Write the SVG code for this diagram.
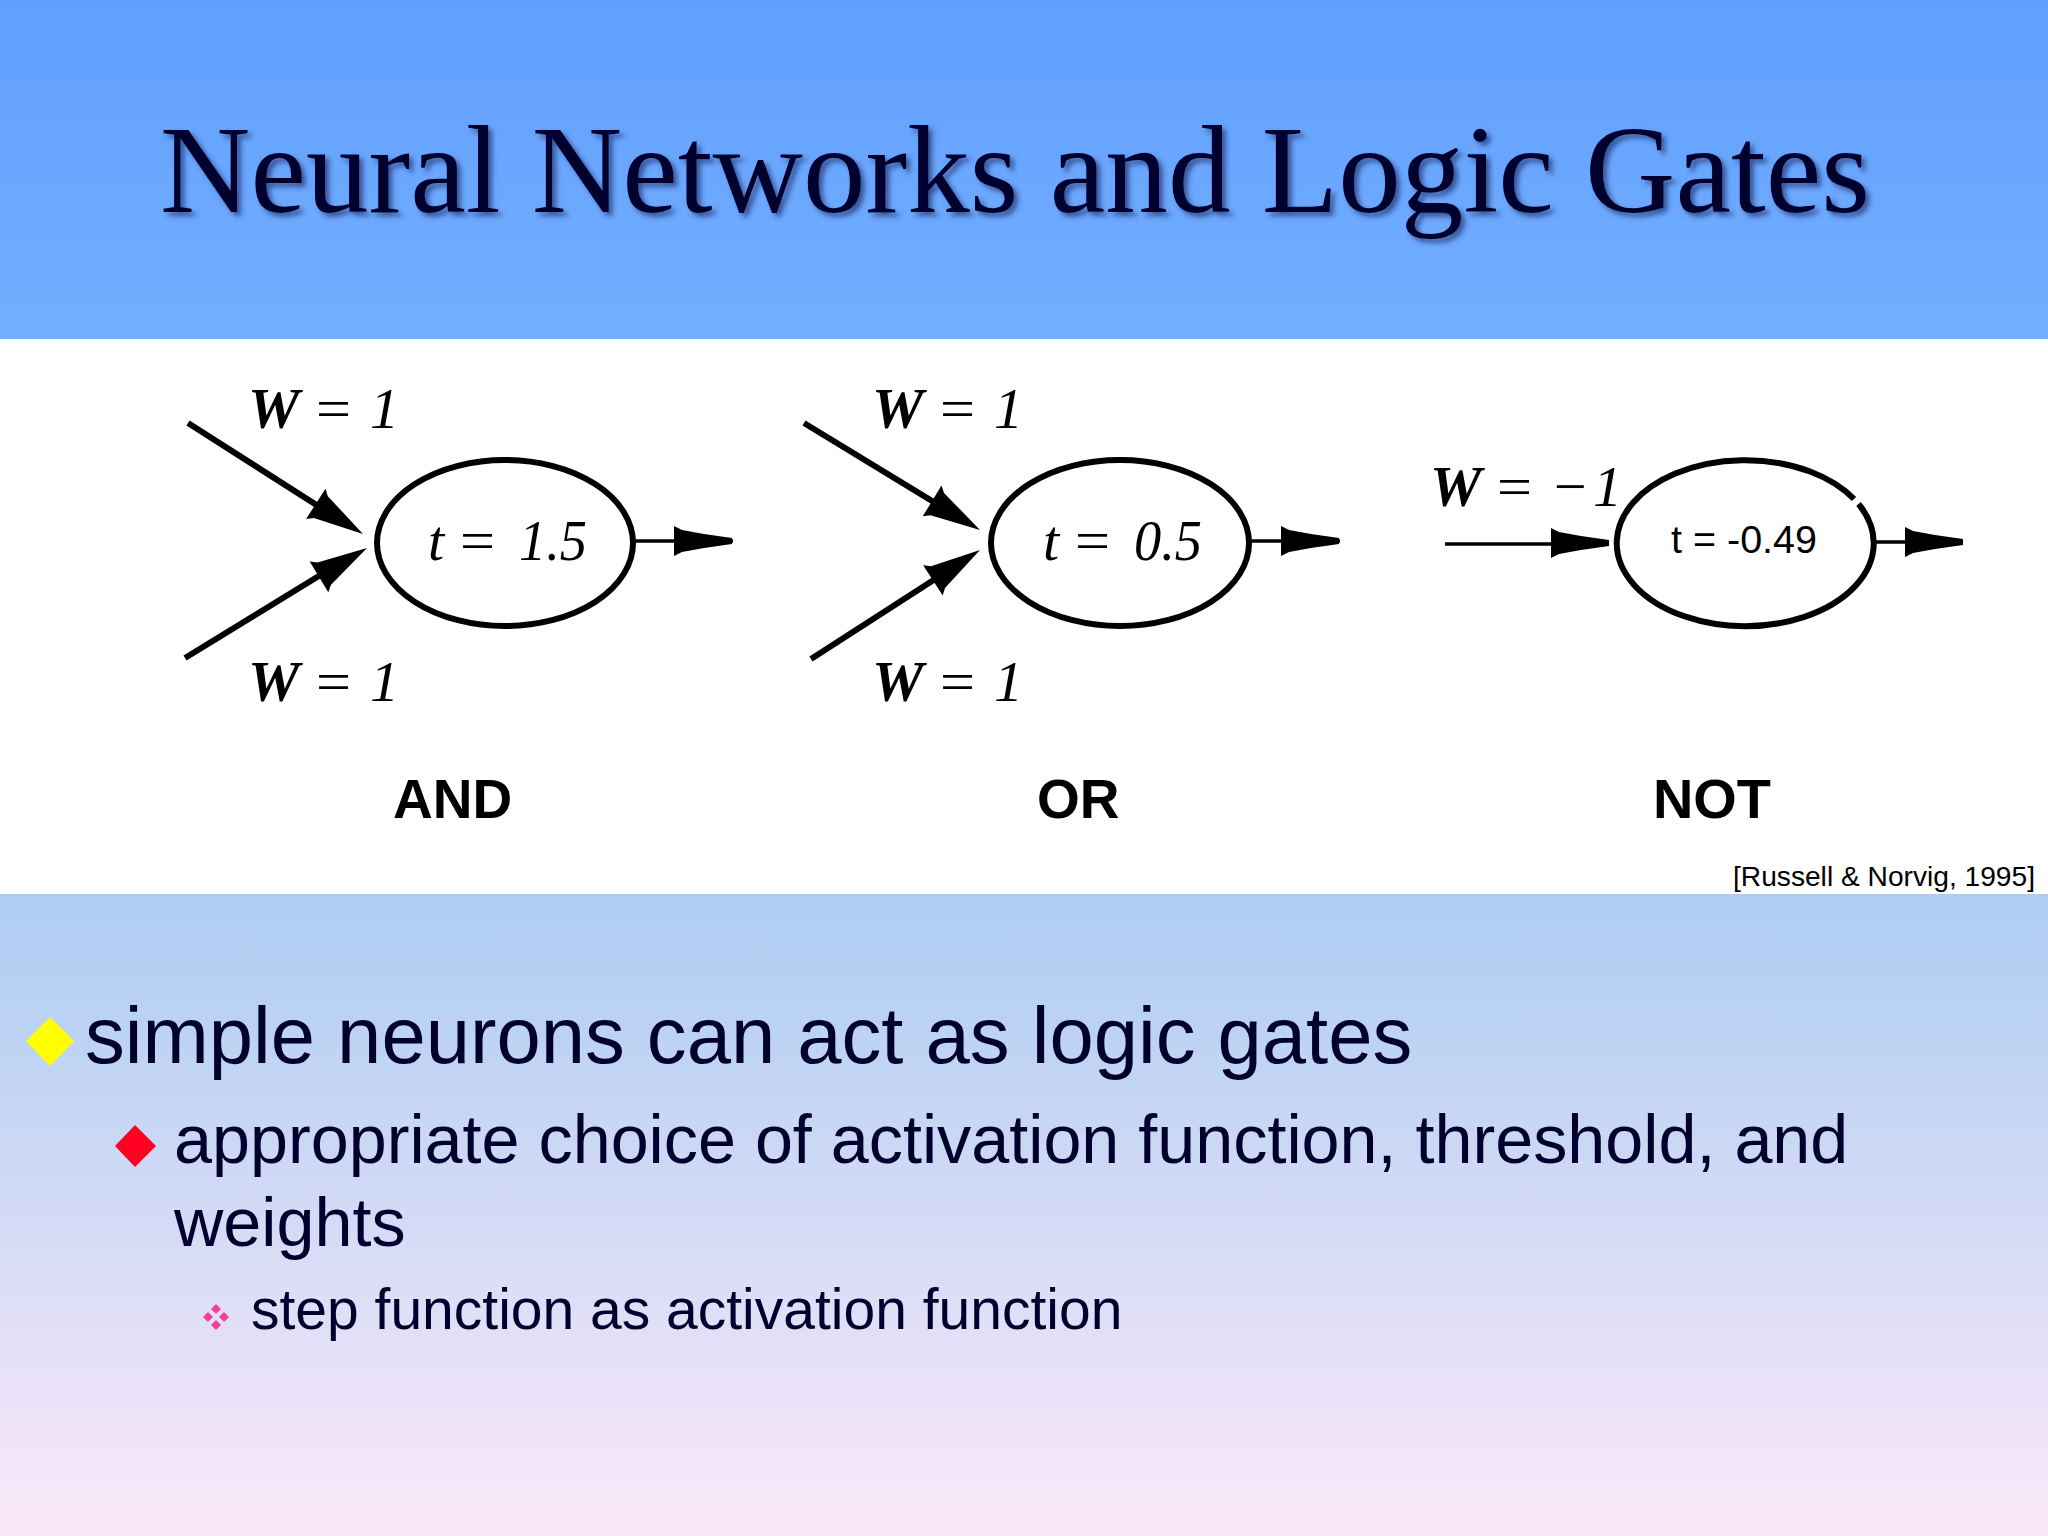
<svg xmlns="http://www.w3.org/2000/svg" width="2048" height="1536" viewBox="0 0 2048 1536">
<defs>
<linearGradient id="gt" x1="0" y1="0" x2="0" y2="1"><stop offset="0" stop-color="#5f9fff"/><stop offset="1" stop-color="#74aeff"/></linearGradient>
<linearGradient id="gb" x1="0" y1="0" x2="0" y2="1"><stop offset="0" stop-color="#accdf2"/><stop offset="1" stop-color="#fbe8f9"/></linearGradient>
<filter id="sh" x="-5%" y="-20%" width="110%" height="140%"><feDropShadow dx="4" dy="4" stdDeviation="2.5" flood-color="#2f4a88" flood-opacity="0.85"/></filter>
<path id="head" d="M-56,-18 L-50,-13 L0,0 L-50,13 L-56,18 Z"/>
<path id="head2" d="M-58,-15 L-50,-11 L-28,-7 L0,-3 L0,3 L-28,7 L-50,11 L-58,15 Z"/>
</defs>
<style>
.ser{font-family:"Liberation Serif",serif;font-style:italic;font-size:58px;fill:#000}
.w{font-weight:bold}
.ui{font-family:"Liberation Sans",Arial,sans-serif}
.gate{font-family:"Liberation Sans",Arial,sans-serif;font-weight:bold;font-size:55px;fill:#000}
.body{font-family:"Liberation Sans",Arial,sans-serif;fill:#00002e}
.cell{fill:none;stroke:#000;stroke-width:6}
.wire{stroke:#000;stroke-width:6;fill:none}
.thin{stroke:#000;stroke-width:3.5;fill:none}
</style>
<rect width="2048" height="340" fill="url(#gt)"/>
<rect y="339" width="2048" height="556" fill="#fff"/>
<rect y="894" width="2048" height="642" fill="url(#gb)"/>
<text x="160" y="212" textLength="1710" lengthAdjust="spacingAndGlyphs" font-family="'Liberation Serif',serif" font-size="124" fill="#00002e" filter="url(#sh)">Neural Networks and Logic Gates</text>
<g id="connectors">
<line class="wire" x1="188" y1="423" x2="340" y2="520"/><use href="#head" transform="translate(363,534) rotate(32.5)"/>
<line class="wire" x1="185" y1="658" x2="340" y2="563"/><use href="#head" transform="translate(367,548) rotate(-31)"/>
<line class="thin" x1="635" y1="541" x2="733" y2="541"/><use href="#head2" transform="translate(732,541)"/>
<line class="wire" x1="804" y1="423" x2="960" y2="518"/><use href="#head" transform="translate(980,530) rotate(31.3)"/>
<line class="wire" x1="811" y1="659" x2="960" y2="563"/><use href="#head" transform="translate(980,550) rotate(-32.8)"/>
<line class="thin" x1="1251" y1="541" x2="1340" y2="541"/><use href="#head2" transform="translate(1339,541)"/>
<line class="thin" x1="1445" y1="544" x2="1607" y2="544"/><use href="#head2" transform="translate(1609,543)"/>
<line class="thin" x1="1875" y1="542" x2="1963" y2="542"/><use href="#head2" transform="translate(1963,542)"/>
</g>
<g id="and-gate">
<ellipse class="cell" cx="505" cy="543" rx="128" ry="83"/>
<text class="ser" x="428" y="560">t</text><text class="ser" x="456" y="560" textLength="42" lengthAdjust="spacingAndGlyphs">=</text><text class="ser" x="519" y="560" textLength="68" lengthAdjust="spacingAndGlyphs">1.5</text>
<text class="ser w" x="248" y="428">W</text><text class="ser" x="312" y="428" textLength="42" lengthAdjust="spacingAndGlyphs">=</text><text class="ser" x="370" y="428">1</text>
<text class="ser w" x="248" y="701">W</text><text class="ser" x="312" y="701" textLength="42" lengthAdjust="spacingAndGlyphs">=</text><text class="ser" x="370" y="701">1</text>
<text class="gate" x="393" y="818">AND</text>
</g>
<g id="or-gate">
<ellipse class="cell" cx="1120" cy="543" rx="129" ry="83"/>
<text class="ser" x="1043" y="560">t</text><text class="ser" x="1071" y="560" textLength="42" lengthAdjust="spacingAndGlyphs">=</text><text class="ser" x="1134" y="560" textLength="68" lengthAdjust="spacingAndGlyphs">0.5</text>
<text class="ser w" x="872" y="428">W</text><text class="ser" x="936" y="428" textLength="42" lengthAdjust="spacingAndGlyphs">=</text><text class="ser" x="994" y="428">1</text>
<text class="ser w" x="872" y="701">W</text><text class="ser" x="936" y="701" textLength="42" lengthAdjust="spacingAndGlyphs">=</text><text class="ser" x="994" y="701">1</text>
<text class="gate" x="1037" y="818">OR</text>
</g>
<g id="not-gate">
<path class="cell" d="M1858.5 504 A128.5 83 0 1 1 1854 499"/>
<text class="ui" x="1671" y="553" font-size="38" textLength="146" lengthAdjust="spacingAndGlyphs">t = -0.49</text>
<text class="ser w" x="1430" y="506">W</text><text class="ser" x="1493" y="506" textLength="42" lengthAdjust="spacingAndGlyphs">=</text><text class="ser" x="1550" y="506">−</text><text class="ser" x="1593" y="506">1</text>
<text class="gate" x="1653" y="818" textLength="118" lengthAdjust="spacingAndGlyphs">NOT</text>
</g>
<text class="ui" x="1733" y="886" font-size="28" textLength="302" lengthAdjust="spacingAndGlyphs" fill="#000">[Russell &amp; Norvig, 1995]</text>
<g id="bullets">
<polygon points="50,1017 74,1041 50,1066 26,1041" fill="#ffff00"/>
<polygon points="135,1125 156,1146 135,1167 115,1146" fill="#ff0022"/>
<g fill="#f0409a"><polygon points="216,1304 221,1309 216,1314 211,1309"/><polygon points="216,1320 221,1325 216,1330 211,1325"/><polygon points="208,1312 213,1317 208,1322 203,1317"/><polygon points="224,1312 229,1317 224,1322 219,1317"/></g>
</g>
<text class="body" x="85" y="1063" font-size="79.6">simple neurons can act as logic gates</text>
<text class="body" x="174" y="1163" font-size="68.3">appropriate choice of activation function, threshold, and</text>
<text class="body" x="174" y="1246" font-size="68.3">weights</text>
<text class="body" x="251" y="1329" font-size="57">step function as activation function</text>
</svg>
